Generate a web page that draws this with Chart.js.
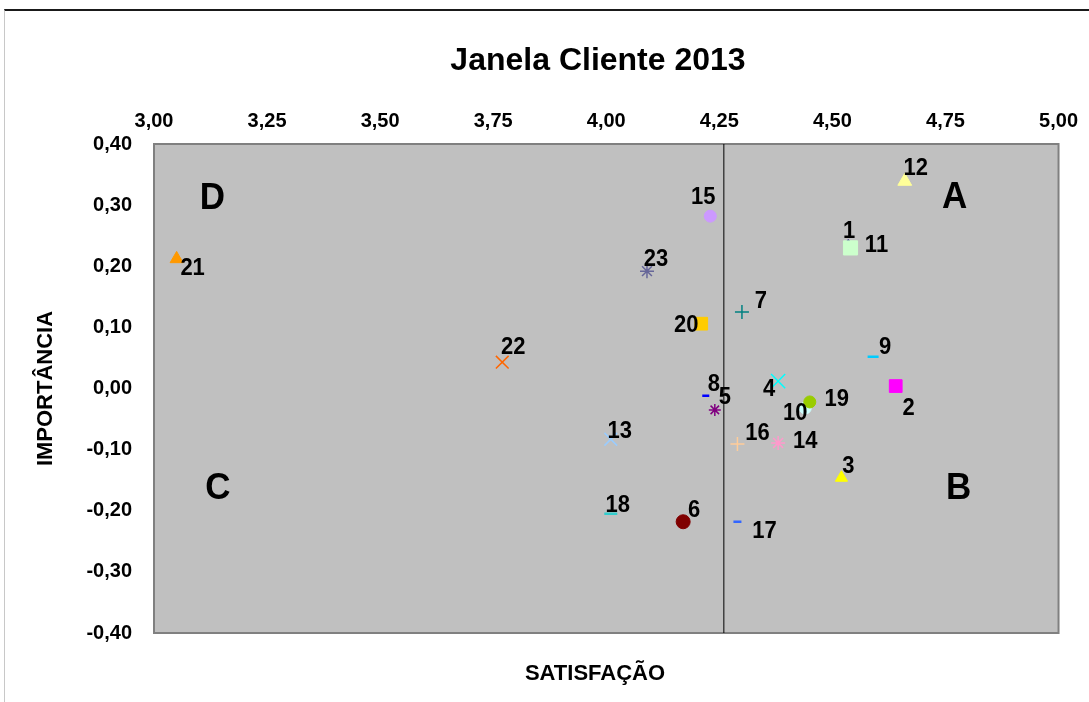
<!DOCTYPE html>
<html>
<head>
<meta charset="utf-8">
<script src="https://cdn.jsdelivr.net/npm/chart.js@4.4.1/dist/chart.umd.min.js"></script>
<style>
  html, body { margin: 0; padding: 0; background: #ffffff; }
  #wrap { position: relative; width: 1089px; height: 702px; overflow: hidden; }
  #frame { position: absolute; left: 4px; top: 9px; width: 1200px; height: 800px;
           border-top: 2px solid #1a1a1a; border-left: 1px solid #c8c8c8; }
  canvas { position: absolute; left: 0; top: 0; }
</style>
</head>
<body>
<div id="wrap">
  <div id="frame"></div>
  <canvas id="c" width="1089" height="702"></canvas>
</div>
<script>
// ---- data ----
const chartTitle = 'Janela Cliente 2013';
const xAxisTitle = 'SATISFAÇÃO';
const yAxisTitle = 'IMPORTÂNCIA';
const seriesNames = ['1','2','3','4','5','6','7','8','9','10','11','12','13','14','15','16','17','18','19','20','21','22','23'];
const satisfacao  = [4.535, 4.64, 4.52, 4.38, 4.24, 4.17, 4.30, 4.22, 4.59, 4.44, 4.54, 4.66, 4.01, 4.38, 4.23, 4.29, 4.29, 4.01, 4.45, 4.21, 3.05, 3.77, 4.09];
const importancia = [0.237, 0.004, -0.146, 0.012, -0.035, -0.218, 0.125, -0.012, 0.052, -0.032, 0.230, 0.339, -0.083, -0.089, 0.282, -0.091, -0.218, -0.205, -0.022, 0.106, 0.212, 0.043, 0.192];
const satisfacaoMedia = 4.26;
const xTickLabels = ['3,00','3,25','3,50','3,75','4,00','4,25','4,50','4,75','5,00'];
const yTickLabels = ['-0,40','-0,30','-0,20','-0,10','0,00','0,10','0,20','0,30','0,40'];
const quadrantNames = ['A','B','C','D'];

// ---- styles ----
const colors = ['#000080','#ff00ff','#ffff00','#00ffff','#800080','#800000','#008080','#0000ff','#00ccff','#ccffff',
                '#ccffcc','#ffff99','#99ccff','#ff99cc','#cc99ff','#ffcc99','#3366ff','#33cccc','#99cc00','#ffcc00',
                '#ff9900','#ff6600','#666699'];
const styles = ['rectRot','rect','triangle','crossRot','star','circle','cross','line','line','circle',
                'rect','triangle','crossRot','star','circle','cross','line','line','circle','rect',
                'triangle','crossRot','star'];
const radii  = [4, 9, 7, 10, 6, 7, 7, 3.5, 5.5, 6, 10, 8, 9, 7, 6, 7, 4, 6.5, 6, 9, 7.5, 9, 7];
const strokeW = {rectRot:1, rect:1, triangle:1, circle:1, crossRot:1.5, star:1.5, cross:1.5, line:2.5};
const labelOffsets = [[1,-12],[13,22],[7,-11],[-9,8],[10,-12],[11,-11],[19,-11],[8,-11],[12,-9],[-10,5],
                      [26,-2],[11,-13],[9,-8],[27,-1],[-7,-19],[20,-11],[27,10],[7,-8],[27,-2],[-15,2],
                      [16,10],[11,-15],[9,-12]];
const quadrantPos = {A:[4.770,0.312], B:[4.779,-0.163], C:[3.141,-0.163], D:[3.129,0.311]};

const FONT = '"Liberation Sans", Arial, Helvetica, sans-serif';

const datasets = seriesNames.map((name, i) => ({
  label: name,
  data: [{x: satisfacao[i], y: importancia[i]}],
  pointStyle: styles[i],
  pointRadius: radii[i],
  pointHoverRadius: radii[i],
  backgroundColor: colors[i],
  borderColor: colors[i],
  pointBorderWidth: strokeW[styles[i]],
  order: seriesNames.length - i + 1
}));
datasets.push({
  label: 'media',
  type: 'line',
  data: [{x: satisfacaoMedia, y: -0.4}, {x: satisfacaoMedia, y: 0.4}],
  borderColor: '#000000',
  borderWidth: 1,
  pointRadius: 0,
  fill: false,
  order: 100
});

const plotBg = {
  id: 'plotBg',
  beforeDraw(chart) {
    const {ctx, chartArea: a} = chart;
    ctx.save();
    ctx.fillStyle = '#c0c0c0';
    ctx.fillRect(a.left, a.top, a.right - a.left, a.bottom - a.top);
    ctx.strokeStyle = '#808080';
    ctx.lineWidth = 2;
    ctx.strokeRect(a.left, a.top, a.right - a.left, a.bottom - a.top);
    ctx.restore();
  }
};

function stretchedText(ctx, text, x, y, sy) {
  ctx.save();
  ctx.translate(x, y);
  ctx.scale(1, sy);
  ctx.fillText(text, 0, 0);
  ctx.restore();
}

const texts = {
  id: 'texts',
  afterDatasetsDraw(chart) {
    const {ctx, scales} = chart;
    ctx.save();
    ctx.fillStyle = '#000';
    ctx.textAlign = 'center';
    ctx.textBaseline = 'middle';
    ctx.font = 'bold 22px ' + FONT;
    seriesNames.forEach((name, i) => {
      const el = chart.getDatasetMeta(i).data[0];
      stretchedText(ctx, name, el.x + labelOffsets[i][0], el.y + labelOffsets[i][1], 1.08);
    });
    ctx.font = 'bold 35px ' + FONT;
    quadrantNames.forEach(q => {
      const p = quadrantPos[q];
      stretchedText(ctx, q, scales.x.getPixelForValue(p[0]), scales.y.getPixelForValue(p[1]), 1.08);
    });
    ctx.textBaseline = 'alphabetic';
    ctx.font = 'bold 32px ' + FONT;
    stretchedText(ctx, chartTitle, 598, 70, 1.0);
    ctx.font = 'bold 22px ' + FONT;
    stretchedText(ctx, xAxisTitle, 595, 680, 1.0);
    ctx.restore();
  }
};

new Chart(document.getElementById('c'), {
  type: 'scatter',
  data: { datasets },
  options: {
    responsive: false,
    animation: false,
    events: [],
    layout: { padding: { top: 0, left: 0, right: 29, bottom: 69 } },
    plugins: { legend: { display: false }, tooltip: { enabled: false }, title: { display: false } },
    scales: {
      x: {
        type: 'linear', position: 'top', min: 3, max: 5,
        grid: { display: false, drawTicks: false },
        border: { display: false },
        ticks: {
          stepSize: 0.25, padding: 11, color: '#000',
          font: { family: FONT, size: 20, weight: 'bold' },
          callback: (v) => xTickLabels[Math.round((v - 3) / 0.25)]
        },
        afterFit(s) { s.height = 144; }
      },
      y: {
        type: 'linear', position: 'left', min: -0.4, max: 0.4,
        grid: { display: false, drawTicks: false },
        border: { display: false },
        ticks: {
          stepSize: 0.1, padding: 22, color: '#000',
          font: { family: FONT, size: 20, weight: 'bold' },
          callback: (v) => yTickLabels[Math.round((v + 0.4) / 0.1)]
        },
        title: {
          display: true, text: yAxisTitle, color: '#000',
          font: { family: FONT, size: 22, weight: 'bold' },
          padding: { top: 33, bottom: 0 }
        },
        afterFit(s) { s.width = 154; }
      }
    }
  },
  plugins: [plotBg, texts]
});
</script>
</body>
</html>
